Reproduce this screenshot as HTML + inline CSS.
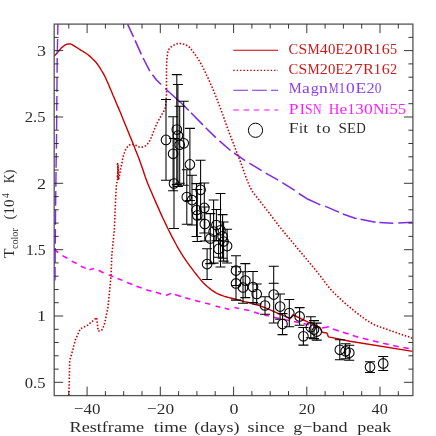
<!DOCTYPE html>
<html><head><meta charset="utf-8"><title>T_color</title>
<style>svg{will-change:transform}html,body{margin:0;padding:0;background:#fff}body{width:436px;height:436px;overflow:hidden;font-family:"Liberation Serif",serif}</style>
</head><body>
<svg width="436" height="436" viewBox="0 0 436 436" style="display:block">
<rect width="436" height="436" fill="#fff"/>
<defs><clipPath id="c"><rect x="54.2" y="24.1" width="358.7" height="371.5"/></clipPath></defs>
<g clip-path="url(#c)" fill="none" stroke-linecap="butt" stroke-linejoin="round">
<path d="M54.0,249.5 L58.3,252.5" stroke="#ff00ff" stroke-width="1.55"/>
<path d="M62.5,255.6 L67.4,258.3" stroke="#ff00ff" stroke-width="1.55"/>
<path d="M71.7,261.1 L76.6,263.5" stroke="#ff00ff" stroke-width="1.55"/>
<path d="M80.8,266.2 L85.8,268.4" stroke="#ff00ff" stroke-width="1.55"/>
<path d="M89.4,269.7 L94.0,268.4" stroke="#ff00ff" stroke-width="1.55"/>
<path d="M98.6,270.3 L103.6,273.0" stroke="#ff00ff" stroke-width="1.55"/>
<path d="M108.7,274.9 L113.3,276.7" stroke="#ff00ff" stroke-width="1.55"/>
<path d="M117.5,278.5 L122.5,280.4" stroke="#ff00ff" stroke-width="1.55"/>
<path d="M127.1,282.6 L132.3,284.5" stroke="#ff00ff" stroke-width="1.55"/>
<path d="M136.4,286.2 L141.6,287.9" stroke="#ff00ff" stroke-width="1.55"/>
<path d="M146.3,289.7 L151.5,291.3" stroke="#ff00ff" stroke-width="1.55"/>
<path d="M155.9,292.3 L161.1,294.1" stroke="#ff00ff" stroke-width="1.55"/>
<path d="M166.0,295.5 L171.1,293.4" stroke="#ff00ff" stroke-width="1.55"/>
<path d="M174.9,294.5 L181.1,296.4" stroke="#ff00ff" stroke-width="1.55"/>
<path d="M185.2,297.8 L190.3,299.3" stroke="#ff00ff" stroke-width="1.55"/>
<path d="M195.0,300.5 L200.2,301.8" stroke="#ff00ff" stroke-width="1.55"/>
<path d="M205.1,302.9 L210.1,304.3" stroke="#ff00ff" stroke-width="1.55"/>
<path d="M215.6,305.9 L220.2,307.2" stroke="#ff00ff" stroke-width="1.55"/>
<path d="M224.8,308.3 L229.4,309.4" stroke="#ff00ff" stroke-width="1.55"/>
<path d="M234.5,307.5 L238.9,308.4" stroke="#ff00ff" stroke-width="1.55"/>
<path d="M244.0,309.4 L249.2,310.5" stroke="#ff00ff" stroke-width="1.55"/>
<path d="M254.1,312.1 L259.1,313.8" stroke="#ff00ff" stroke-width="1.55"/>
<path d="M264.2,315.0 L268.8,316.1" stroke="#ff00ff" stroke-width="1.55"/>
<path d="M274.0,317.4 L274.6,317.5 L279.5,318.5" stroke="#ff00ff" stroke-width="1.55"/>
<path d="M284.3,319.5 L289.3,320.6" stroke="#ff00ff" stroke-width="1.55"/>
<path d="M294.0,321.6 L299.4,322.7" stroke="#ff00ff" stroke-width="1.55"/>
<path d="M303.6,323.6 L308.8,324.8" stroke="#ff00ff" stroke-width="1.55"/>
<path d="M313.5,326.0 L318.8,327.4" stroke="#ff00ff" stroke-width="1.55"/>
<path d="M322.0,327.9 L328.9,326.7" stroke="#ff00ff" stroke-width="1.55"/>
<path d="M333.0,329.1 L338.8,331.1" stroke="#ff00ff" stroke-width="1.55"/>
<path d="M342.9,332.2 L348.5,334.1" stroke="#ff00ff" stroke-width="1.55"/>
<path d="M352.8,335.5 L358.3,337.2" stroke="#ff00ff" stroke-width="1.55"/>
<path d="M362.9,338.3 L368.4,339.7" stroke="#ff00ff" stroke-width="1.55"/>
<path d="M373.0,340.8 L378.5,342.2" stroke="#ff00ff" stroke-width="1.55"/>
<path d="M383.1,343.2 L388.6,344.5" stroke="#ff00ff" stroke-width="1.55"/>
<path d="M393.2,345.5 L398.7,346.8" stroke="#ff00ff" stroke-width="1.55"/>
<path d="M403.3,347.6 L408.8,348.6" stroke="#ff00ff" stroke-width="1.55"/>
<path d="M412.3,349.2 L413.0,349.3" stroke="#ff00ff" stroke-width="1.55"/>
<path d="M127.6,24.1 L133.5,36.8" stroke="#7f2ae6" stroke-width="1.55"/>
<path d="M135.1,40.4 L141.3,54.4" stroke="#7f2ae6" stroke-width="1.55"/>
<path d="M143.1,58.0 L149.8,71.2" stroke="#7f2ae6" stroke-width="1.55"/>
<path d="M152.5,74.8 L156.5,80.0 L161.1,84.5" stroke="#7f2ae6" stroke-width="1.55"/>
<path d="M165.2,88.5 L182.8,104.5 L188.7,110.5" stroke="#7f2ae6" stroke-width="1.55"/>
<path d="M191.0,112.8 L202.9,124.9" stroke="#7f2ae6" stroke-width="1.55"/>
<path d="M205.7,127.7 L215.8,137.6" stroke="#7f2ae6" stroke-width="1.55"/>
<path d="M219.4,140.8 L230.5,150.5" stroke="#7f2ae6" stroke-width="1.55"/>
<path d="M234.1,153.0 L245.1,160.6" stroke="#7f2ae6" stroke-width="1.55"/>
<path d="M249.3,163.2 L261.7,170.7" stroke="#7f2ae6" stroke-width="1.55"/>
<path d="M265.8,173.1 L278.2,180.1" stroke="#7f2ae6" stroke-width="1.55"/>
<path d="M282.3,182.6 L294.7,190.4" stroke="#7f2ae6" stroke-width="1.55"/>
<path d="M298.8,193.5 L308.1,199.3 L320.3,204.9" stroke="#7f2ae6" stroke-width="1.55"/>
<path d="M325.1,206.3 L325.5,206.4 L338.8,212.1 L339.0,212.2" stroke="#7f2ae6" stroke-width="1.55"/>
<path d="M342.8,214.0 L342.9,214.0 L355.0,218.3 L356.7,218.6" stroke="#7f2ae6" stroke-width="1.55"/>
<path d="M360.5,219.3 L375.6,222.2" stroke="#7f2ae6" stroke-width="1.55"/>
<path d="M379.4,222.4 L393.0,223.2 L393.3,223.2" stroke="#7f2ae6" stroke-width="1.55"/>
<path d="M398.3,222.9 L412.5,222.2" stroke="#7f2ae6" stroke-width="1.55"/>
<path d="M68.9,395.6 L69.7,360.5 L72.7,350.4 L75.2,340.3 L80.3,328.9 L87.8,325.1 L96.7,317.6 L98.2,331.2 L101.7,330.2 L104.2,325.1 L108.0,307.0 L111.0,276.7 L111.8,255.2 L114.3,230.0 L115.6,199.4 L116.5,183.9 L117.6,180.6 L117.3,175.0 L118.3,170.0 L117.5,163.7 L118.4,172.0 L118.6,179.7 L120.6,169.2 L122.0,162.8 L122.1,162.1 L122.2,161.2 L122.4,160.1 L122.6,159.0 L122.8,157.8 L123.1,156.7 L123.4,155.6 L123.7,154.6 L124.1,153.5 L124.5,152.4 L124.8,151.4 L125.2,150.6 L125.5,149.9 L125.8,149.3 L126.1,148.8 L126.4,148.4 L126.8,147.9 L127.1,147.5 L127.4,147.0 L127.8,146.5 L128.1,146.1 L128.5,145.7 L128.9,145.3 L129.4,145.0 L130.0,144.8 L130.7,144.6 L131.4,144.5 L132.2,144.4 L133.1,144.5 L133.9,144.6 L134.8,144.9 L135.7,145.3 L136.7,145.8 L137.7,146.3 L138.6,146.7 L139.5,147.0 L140.4,147.1 L141.2,147.2 L142.0,147.1 L142.8,147.0 L143.6,146.8 L144.3,146.5 L145.0,146.1 L145.7,145.7 L146.4,145.1 L147.0,144.5 L147.7,143.8 L148.3,143.0 L148.9,142.2 L149.4,141.3 L149.9,140.3 L150.4,139.3 L151.0,138.0 L151.6,136.6 L152.3,134.9 L153.1,132.9 L153.9,130.7 L154.7,128.5 L155.6,126.4 L156.4,124.5 L157.2,122.8 L158.0,121.3 L158.9,119.8 L159.7,118.5 L160.4,117.1 L161.2,115.7 L161.9,114.4 L162.7,113.1 L163.4,111.9 L164.1,110.6 L164.7,109.2 L165.2,107.7 L165.6,106.0 L165.8,104.2 L166.0,102.2 L166.1,100.3 L166.2,98.3 L166.3,96.4 L166.4,94.7 L166.4,93.1 L166.5,91.6 L166.5,89.9 L166.5,87.9 L166.5,85.6 L166.5,82.7 L166.5,79.3 L166.5,75.6 L166.5,71.9 L166.5,68.4 L166.6,65.4 L166.7,62.8 L166.8,60.4 L167.0,58.1 L167.2,56.2 L167.4,54.4 L167.7,52.8 L168.0,51.5 L168.3,50.5 L168.7,49.7 L169.1,49.1 L169.6,48.4 L170.2,47.8 L170.9,47.1 L171.7,46.5 L172.5,45.9 L173.4,45.4 L174.3,44.9 L175.2,44.5 L176.0,44.2 L176.8,43.9 L177.6,43.6 L178.4,43.5 L179.3,43.4 L180.3,43.5 L181.4,43.7 L182.7,44.0 L184.1,44.3 L185.4,44.8 L186.7,45.4 L187.8,46.0 L188.8,46.7 L189.6,47.4 L190.3,48.2 L191.1,49.1 L191.9,50.2 L192.9,51.5 L194.0,53.0 L195.3,54.7 L196.5,56.6 L197.9,58.6 L199.2,60.7 L200.5,62.9 L201.8,65.2 L203.0,67.6 L204.2,70.1 L205.5,72.6 L206.7,75.3 L208.0,78.0 L209.3,80.8 L210.5,83.6 L211.8,86.5 L213.1,89.5 L214.3,92.6 L215.6,95.7 L216.9,99.0 L218.2,102.5 L219.6,106.0 L220.9,109.5 L222.1,112.9 L223.2,115.9 L224.1,118.4 L224.8,120.4 L225.4,122.3 L226.1,124.3 L227.0,126.8 L228.2,130.0 L229.8,134.2 L231.7,139.1 L233.8,144.5 L235.9,150.1 L238.0,155.5 L240.0,160.6 L241.8,165.4 L243.5,170.3 L245.2,175.1 L246.9,179.6 L248.6,183.8 L250.3,187.5 L252.0,190.6 L253.7,193.3 L255.4,195.5 L257.2,197.6 L258.9,199.7 L260.6,201.9 L262.3,204.2 L264.0,206.4 L265.7,208.6 L267.5,210.9 L269.2,213.1 L271.0,215.4 L272.6,217.5 L273.9,219.2 L275.2,221.0 L276.9,223.2 L279.1,226.1 L282.3,230.0 L286.7,235.4 L292.3,242.0 L298.4,249.4 L304.7,256.9 L310.6,264.0 L315.6,270.0 L319.5,274.9 L322.7,279.1 L325.4,282.8 L328.2,286.4 L331.2,290.0 L335.0,293.9 L339.7,298.3 L344.9,303.1 L350.6,307.9 L356.2,312.5 L361.6,316.6 L366.3,320.0 L370.3,322.5 L373.8,324.4 L376.9,325.7 L380.0,326.9 L383.3,328.0 L386.9,329.3 L391.2,330.9 L396.1,332.6 L401.1,334.3 L405.8,335.9 L409.8,337.2 L412.7,338.2" stroke="#c80000" stroke-width="1.6" stroke-dasharray="1.5 1.8"/>
<path d="M117.9,163.5 l-0.9,1.2 l1.8,1 l-1.8,1.2 l1.8,1 l-1.8,1.2 l1.8,1 l-1.8,1.2 l1.8,1 l-1.8,1.2 l1.8,1 l-1.8,1.2 l1.8,1 l-1.8,1.2 l1.8,1 l-0.9,1" stroke="#c80000" stroke-width="0.8"/>
<path d="M54.1,56.2 L54.5,55.8 L55.0,55.2 L55.7,54.5 L56.4,53.7 L57.1,52.9 L57.8,52.1 L58.5,51.3 L59.3,50.4 L60.0,49.5 L60.8,48.6 L61.6,47.8 L62.3,47.1 L63.0,46.5 L63.6,46.0 L64.3,45.6 L64.9,45.2 L65.4,44.9 L66.0,44.6 L66.5,44.4 L67.0,44.2 L67.5,44.1 L67.9,44.1 L68.3,44.0 L68.8,44.0 L69.2,44.0 L69.6,43.9 L70.0,43.9 L70.5,44.0 L70.9,44.1 L71.5,44.3 L72.2,44.6 L72.9,45.1 L73.7,45.6 L74.5,46.1 L75.4,46.6 L76.1,47.1 L76.7,47.5 L77.3,47.9 L77.8,48.2 L78.4,48.6 L79.1,49.0 L80.0,49.6 L81.1,50.3 L82.4,51.0 L83.7,51.9 L85.2,52.8 L86.6,53.8 L88.0,54.8 L89.4,55.9 L90.8,57.1 L92.2,58.4 L93.5,59.7 L94.8,61.1 L96.1,62.5 L97.3,64.0 L98.4,65.6 L99.5,67.2 L100.5,68.8 L101.5,70.5 L102.5,72.1 L103.4,73.7 L104.2,75.2 L105.0,76.8 L105.8,78.4 L106.5,80.0 L107.3,81.7 L108.1,83.4 L108.8,85.1 L109.5,86.9 L110.3,88.7 L111.2,90.8 L112.1,93.0 L113.1,95.5 L114.3,98.1 L115.5,101.0 L116.7,103.9 L118.0,106.9 L119.3,110.0 L120.6,113.0 L121.8,116.1 L123.1,119.2 L124.4,122.5 L125.9,126.1 L127.5,130.0 L129.3,134.5 L131.4,139.6 L133.6,145.0 L135.7,150.4 L137.8,155.5 L139.5,160.0 L140.9,163.9 L142.1,167.4 L143.2,170.6 L144.2,173.7 L145.2,176.7 L146.4,180.0 L147.7,183.4 L149.1,186.8 L150.6,190.3 L152.1,193.7 L153.6,197.2 L155.1,200.6 L156.6,204.1 L158.2,207.6 L159.7,211.1 L161.3,214.6 L162.8,218.0 L164.4,221.3 L166.0,224.6 L167.5,227.8 L169.1,231.0 L170.7,234.1 L172.2,237.1 L173.7,239.9 L175.1,242.5 L176.4,245.0 L177.7,247.3 L179.0,249.6 L180.4,251.9 L181.9,254.3 L183.5,256.8 L185.2,259.3 L186.9,261.8 L188.7,264.3 L190.5,266.8 L192.3,269.2 L194.1,271.6 L196.0,274.0 L197.8,276.4 L199.7,278.6 L201.5,280.8 L203.3,282.7 L205.0,284.4 L206.6,286.0 L208.2,287.3 L209.8,288.6 L211.3,289.8 L212.9,290.9 L214.5,291.9 L215.9,292.8 L217.4,293.6 L219.0,294.3 L220.7,295.0 L222.5,295.7 L224.5,296.4 L226.7,297.0 L229.0,297.6 L231.4,298.2 L233.8,298.8 L236.3,299.4 L238.9,300.1 L241.7,300.8 L244.6,301.6 L247.4,302.3 L250.1,303.0 L252.5,303.7 L254.6,304.3 L256.6,304.9 L258.4,305.4 L260.1,305.9 L261.8,306.5 L263.5,307.1 L265.1,307.7 L266.6,308.3 L268.0,309.0 L269.5,309.6 L271.3,310.4 L273.3,311.3 L275.9,312.4 L279.1,313.8 L282.5,315.2 L285.7,316.6 L288.5,317.8 L290.4,318.6 L292.6,315.0 L294.4,315.5 L310.0,323.2 L318.9,326.8 L320.1,327.8 L322.3,332.3 L326.9,333.0 L328.5,336.9 L350.0,341.3 L412.7,351.4" stroke="#c80000" stroke-width="1.4"/>
</g>
<g fill="none" stroke="#000" stroke-width="1.05">
<path d="M166.0,99.5V180.3M161.0,99.5H171.0M161.0,180.3H171.0"/>
<circle cx="166.0" cy="139.9" r="4.8"/>
<path d="M173.1,116.8V190.8M168.1,116.8H178.1M168.1,190.8H178.1"/>
<circle cx="173.1" cy="153.8" r="4.8"/>
<path d="M176.8,74.6V184.6M171.8,74.6H181.8M171.8,184.6H181.8"/>
<circle cx="176.8" cy="129.6" r="4.8"/>
<path d="M177.9,84.5V186.5M172.9,84.5H182.9M172.9,186.5H182.9"/>
<circle cx="177.9" cy="135.5" r="4.8"/>
<path d="M179.7,106.2V183.2M174.7,106.2H184.7M174.7,183.2H184.7"/>
<circle cx="179.7" cy="144.7" r="4.8"/>
<path d="M183.7,101.3V185.3M178.7,101.3H188.7M178.7,185.3H188.7"/>
<circle cx="183.7" cy="143.3" r="4.8"/>
<path d="M189.9,128.4V200.4M184.9,128.4H194.9M184.9,200.4H194.9"/>
<circle cx="189.9" cy="164.4" r="4.8"/>
<path d="M174.0,138.5V228.5M169.0,138.5H179.0M169.0,228.5H179.0"/>
<circle cx="174.0" cy="183.5" r="4.8"/>
<path d="M200.6,160.3V219.3M195.6,160.3H205.6M195.6,219.3H205.6"/>
<circle cx="200.6" cy="189.8" r="4.8"/>
<path d="M186.8,169.7V224.3M181.8,169.7H191.8M181.8,224.3H191.8"/>
<circle cx="186.8" cy="197.0" r="4.8"/>
<path d="M192.0,175.3V224.9M187.0,175.3H197.0M187.0,224.9H197.0"/>
<circle cx="192.0" cy="200.1" r="4.8"/>
<path d="M204.3,182.9V232.9M199.3,182.9H209.3M199.3,232.9H209.3"/>
<circle cx="204.3" cy="207.9" r="4.8"/>
<path d="M196.5,183.6V236.4M191.5,183.6H201.5M191.5,236.4H201.5"/>
<circle cx="196.5" cy="210.0" r="4.8"/>
<path d="M197.3,189.4V241.4M192.3,189.4H202.3M192.3,241.4H202.3"/>
<circle cx="197.3" cy="215.4" r="4.8"/>
<path d="M204.8,207.0V241.0M199.8,207.0H209.8M199.8,241.0H209.8"/>
<circle cx="204.8" cy="224.0" r="4.8"/>
<path d="M213.6,199.9V263.1M208.6,199.9H218.6M208.6,263.1H218.6"/>
<circle cx="213.6" cy="231.5" r="4.8"/>
<path d="M220.5,193.5V266.9M215.5,193.5H225.5M215.5,266.9H225.5"/>
<circle cx="220.5" cy="230.2" r="4.8"/>
<path d="M218.6,240.6V257.2M213.6,240.6H223.6M213.6,257.2H223.6"/>
<circle cx="218.6" cy="248.9" r="4.8"/>
<path d="M216.4,209.5V240.7M211.4,209.5H221.4M211.4,240.7H221.4"/>
<circle cx="216.4" cy="225.1" r="4.8"/>
<path d="M222.6,214.6V258.2M217.6,214.6H227.6M217.6,258.2H227.6"/>
<circle cx="222.6" cy="236.4" r="4.8"/>
<path d="M223.6,221.9V261.1M218.6,221.9H228.6M218.6,261.1H228.6"/>
<circle cx="223.6" cy="241.5" r="4.8"/>
<path d="M227.1,229.2V263.0M222.1,229.2H232.1M222.1,263.0H232.1"/>
<circle cx="227.1" cy="246.1" r="4.8"/>
<path d="M210.3,213.6V263.6M205.3,213.6H215.3M205.3,263.6H215.3"/>
<circle cx="210.3" cy="238.6" r="4.8"/>
<path d="M207.1,248.7V279.5M202.1,248.7H212.1M202.1,279.5H212.1"/>
<circle cx="207.1" cy="264.1" r="4.8"/>
<path d="M236.0,255.8V285.4M231.0,255.8H241.0M231.0,285.4H241.0"/>
<circle cx="236.0" cy="270.6" r="4.8"/>
<path d="M236.0,266.7V300.1M231.0,266.7H241.0M231.0,300.1H241.0"/>
<circle cx="236.0" cy="283.4" r="4.8"/>
<path d="M245.3,263.6V297.6M240.3,263.6H250.3M240.3,297.6H250.3"/>
<circle cx="245.3" cy="280.6" r="4.8"/>
<path d="M243.0,271.7V303.3M238.0,271.7H248.0M238.0,303.3H248.0"/>
<circle cx="243.0" cy="287.5" r="4.8"/>
<path d="M253.0,271.5V302.5M248.0,271.5H258.0M248.0,302.5H258.0"/>
<circle cx="253.0" cy="287.0" r="4.8"/>
<path d="M256.7,284.0V304.0M251.7,284.0H261.7M251.7,304.0H261.7"/>
<circle cx="256.7" cy="294.0" r="4.8"/>
<path d="M273.7,266.2V323.0M268.7,266.2H278.7M268.7,323.0H278.7"/>
<circle cx="273.7" cy="294.6" r="4.8"/>
<path d="M265.0,296.7V314.3M260.0,296.7H270.0M260.0,314.3H270.0"/>
<circle cx="265.0" cy="305.5" r="4.8"/>
<path d="M280.1,293.9V319.3M275.1,293.9H285.1M275.1,319.3H285.1"/>
<circle cx="280.1" cy="306.6" r="4.8"/>
<path d="M282.5,313.6V334.6M277.5,313.6H287.5M277.5,334.6H287.5"/>
<circle cx="282.5" cy="324.1" r="4.8"/>
<path d="M289.3,299.4V326.8M284.3,299.4H294.3M284.3,326.8H294.3"/>
<circle cx="289.3" cy="313.1" r="4.8"/>
<path d="M299.6,307.6V325.2M294.6,307.6H304.6M294.6,325.2H304.6"/>
<circle cx="299.6" cy="316.4" r="4.8"/>
<path d="M303.4,327.5V345.1M298.4,327.5H308.4M298.4,345.1H308.4"/>
<circle cx="303.4" cy="336.3" r="4.8"/>
<path d="M310.8,316.7V337.7M305.8,316.7H315.8M305.8,337.7H315.8"/>
<circle cx="310.8" cy="327.2" r="4.8"/>
<path d="M314.0,320.6V338.6M309.0,320.6H319.0M309.0,338.6H319.0"/>
<circle cx="314.0" cy="329.6" r="4.8"/>
<path d="M316.7,323.1V340.1M311.7,323.1H321.7M311.7,340.1H321.7"/>
<circle cx="316.7" cy="331.6" r="4.8"/>
<path d="M339.8,339.8V359.8M334.8,339.8H344.8M334.8,359.8H344.8"/>
<circle cx="339.8" cy="349.8" r="4.8"/>
<path d="M345.6,343.8V358.8M340.6,343.8H350.6M340.6,358.8H350.6"/>
<circle cx="345.6" cy="351.3" r="4.8"/>
<path d="M349.3,345.2V360.2M344.3,345.2H354.3M344.3,360.2H354.3"/>
<circle cx="349.3" cy="352.7" r="4.8"/>
<path d="M370.0,361.8V372.4M365.0,361.8H375.0M365.0,372.4H375.0"/>
<circle cx="370.0" cy="367.1" r="4.8"/>
<path d="M383.2,356.4V370.4M378.2,356.4H388.2M378.2,370.4H388.2"/>
<circle cx="383.2" cy="363.4" r="4.8"/>
<path d="M268.7,283.3H278.7"/>
</g>
<rect x="54.2" y="24.1" width="358.7" height="371.5" fill="none" stroke="#555" stroke-width="1.3"/>
<path d="M57.9,24.1 L57.5,45 L57.2,57 L56.5,140 L56.1,165 L55.5,215 L55.0,280.5" stroke="#7f2ae6" stroke-width="1.4" fill="none" stroke-dasharray="14.8 4.2" stroke-dashoffset="4.2"/>
<path d="M68.8,395.6v-4.5M68.8,24.1v4.5M87.1,395.6v-9M87.1,24.1v9M105.4,395.6v-4.5M105.4,24.1v4.5M123.7,395.6v-4.5M123.7,24.1v4.5M142.0,395.6v-4.5M142.0,24.1v4.5M160.3,395.6v-9M160.3,24.1v9M178.6,395.6v-4.5M178.6,24.1v4.5M196.9,395.6v-4.5M196.9,24.1v4.5M215.2,395.6v-4.5M215.2,24.1v4.5M233.6,395.6v-9M233.6,24.1v9M251.9,395.6v-4.5M251.9,24.1v4.5M270.2,395.6v-4.5M270.2,24.1v4.5M288.5,395.6v-4.5M288.5,24.1v4.5M306.8,395.6v-9M306.8,24.1v9M325.1,395.6v-4.5M325.1,24.1v4.5M343.4,395.6v-4.5M343.4,24.1v4.5M361.7,395.6v-4.5M361.7,24.1v4.5M380.0,395.6v-9M380.0,24.1v9M398.3,395.6v-4.5M398.3,24.1v4.5M54.2,382.3h9M412.9,382.3h-9M54.2,369.1h4.5M412.9,369.1h-4.5M54.2,355.8h4.5M412.9,355.8h-4.5M54.2,342.5h4.5M412.9,342.5h-4.5M54.2,329.3h4.5M412.9,329.3h-4.5M54.2,316.0h9M412.9,316.0h-9M54.2,302.7h4.5M412.9,302.7h-4.5M54.2,289.5h4.5M412.9,289.5h-4.5M54.2,276.2h4.5M412.9,276.2h-4.5M54.2,262.9h4.5M412.9,262.9h-4.5M54.2,249.7h9M412.9,249.7h-9M54.2,236.4h4.5M412.9,236.4h-4.5M54.2,223.1h4.5M412.9,223.1h-4.5M54.2,209.8h4.5M412.9,209.8h-4.5M54.2,196.6h4.5M412.9,196.6h-4.5M54.2,183.3h9M412.9,183.3h-9M54.2,170.0h4.5M412.9,170.0h-4.5M54.2,156.8h4.5M412.9,156.8h-4.5M54.2,143.5h4.5M412.9,143.5h-4.5M54.2,130.2h4.5M412.9,130.2h-4.5M54.2,117.0h9M412.9,117.0h-9M54.2,103.7h4.5M412.9,103.7h-4.5M54.2,90.4h4.5M412.9,90.4h-4.5M54.2,77.2h4.5M412.9,77.2h-4.5M54.2,63.9h4.5M412.9,63.9h-4.5M54.2,50.6h9M412.9,50.6h-9M54.2,37.4h4.5M412.9,37.4h-4.5" stroke="#222" stroke-width="0.9" fill="none"/>
<g font-family="'Liberation Serif', serif" font-size="15.5px" fill="#111" fill-opacity="0.9">
<text x="73.9" y="413.9" textLength="26.5" lengthAdjust="spacingAndGlyphs">−40</text>
<text x="147.1" y="413.9" textLength="27.1" lengthAdjust="spacingAndGlyphs">−20</text>
<text x="229.6" y="413.9" textLength="9.0" lengthAdjust="spacingAndGlyphs">0</text>
<text x="298.8" y="413.9" textLength="16.2" lengthAdjust="spacingAndGlyphs">20</text>
<text x="371.6" y="413.9" textLength="16.2" lengthAdjust="spacingAndGlyphs">40</text>
<text x="37.0" y="55.8" textLength="9.0" lengthAdjust="spacingAndGlyphs">3</text>
<text x="24.8" y="122.2" textLength="20.8" lengthAdjust="spacingAndGlyphs">2.5</text>
<text x="37.0" y="188.5" textLength="9.0" lengthAdjust="spacingAndGlyphs">2</text>
<text x="25.9" y="254.9" textLength="19.7" lengthAdjust="spacingAndGlyphs">1.5</text>
<text x="37.0" y="321.2" textLength="9.0" lengthAdjust="spacingAndGlyphs">1</text>
<text x="24.8" y="387.5" textLength="20.8" lengthAdjust="spacingAndGlyphs">0.5</text>
<text x="69.6" y="431.5" textLength="74.5" lengthAdjust="spacingAndGlyphs">Restframe</text>
<text x="153.7" y="431.5" textLength="33.5" lengthAdjust="spacingAndGlyphs">time</text>
<text x="194.2" y="431.5" textLength="45.3" lengthAdjust="spacingAndGlyphs">(days)</text>
<text x="247.4" y="431.5" textLength="37.1" lengthAdjust="spacingAndGlyphs">since</text>
<text x="293.2" y="431.5" textLength="54.4" lengthAdjust="spacingAndGlyphs">g−band</text>
<text x="357.2" y="431.5" textLength="34.0" lengthAdjust="spacingAndGlyphs">peak</text>
<text x="288.6" y="53.5" fill="#c80000" textLength="9.70" lengthAdjust="spacingAndGlyphs">C</text>
<text x="298.5" y="53.5" fill="#c80000" textLength="8.70" lengthAdjust="spacingAndGlyphs">S</text>
<text x="307.4" y="53.5" fill="#c80000" textLength="12.20" lengthAdjust="spacingAndGlyphs">M</text>
<text x="319.8" y="53.5" fill="#c80000" textLength="8.00" lengthAdjust="spacingAndGlyphs">4</text>
<text x="328.0" y="53.5" fill="#c80000" textLength="7.40" lengthAdjust="spacingAndGlyphs">0</text>
<text x="335.6" y="53.5" fill="#c80000" textLength="8.70" lengthAdjust="spacingAndGlyphs">E</text>
<text x="344.5" y="53.5" fill="#c80000" textLength="8.76" lengthAdjust="spacingAndGlyphs">2</text>
<text x="354.1" y="53.5" fill="#c80000" textLength="8.76" lengthAdjust="spacingAndGlyphs">0</text>
<text x="363.1" y="53.5" fill="#c80000" textLength="10.80" lengthAdjust="spacingAndGlyphs">R</text>
<text x="373.8" y="53.5" fill="#c80000" textLength="7.40" lengthAdjust="spacingAndGlyphs">1</text>
<text x="381.7" y="53.5" fill="#c80000" textLength="8.00" lengthAdjust="spacingAndGlyphs">6</text>
<text x="389.9" y="53.5" fill="#c80000" textLength="7.10" lengthAdjust="spacingAndGlyphs">5</text>
<text x="288.6" y="73.5" fill="#c80000" textLength="9.70" lengthAdjust="spacingAndGlyphs">C</text>
<text x="298.5" y="73.5" fill="#c80000" textLength="8.70" lengthAdjust="spacingAndGlyphs">S</text>
<text x="307.4" y="73.5" fill="#c80000" textLength="12.20" lengthAdjust="spacingAndGlyphs">M</text>
<text x="319.8" y="73.5" fill="#c80000" textLength="8.00" lengthAdjust="spacingAndGlyphs">2</text>
<text x="328.0" y="73.5" fill="#c80000" textLength="7.40" lengthAdjust="spacingAndGlyphs">0</text>
<text x="335.6" y="73.5" fill="#c80000" textLength="8.70" lengthAdjust="spacingAndGlyphs">E</text>
<text x="344.5" y="73.5" fill="#c80000" textLength="8.76" lengthAdjust="spacingAndGlyphs">2</text>
<text x="354.1" y="73.5" fill="#c80000" textLength="8.76" lengthAdjust="spacingAndGlyphs">7</text>
<text x="363.1" y="73.5" fill="#c80000" textLength="10.80" lengthAdjust="spacingAndGlyphs">R</text>
<text x="373.8" y="73.5" fill="#c80000" textLength="7.40" lengthAdjust="spacingAndGlyphs">1</text>
<text x="381.7" y="73.5" fill="#c80000" textLength="8.00" lengthAdjust="spacingAndGlyphs">6</text>
<text x="389.9" y="73.5" fill="#c80000" textLength="7.10" lengthAdjust="spacingAndGlyphs">2</text>
<text x="288.8" y="93.2" fill="#7f2ae6" textLength="12.90" lengthAdjust="spacingAndGlyphs">M</text>
<text x="301.9" y="93.2" fill="#7f2ae6" textLength="7.77" lengthAdjust="spacingAndGlyphs">a</text>
<text x="310.8" y="93.2" fill="#7f2ae6" textLength="8.10" lengthAdjust="spacingAndGlyphs">g</text>
<text x="319.1" y="93.2" fill="#7f2ae6" textLength="8.76" lengthAdjust="spacingAndGlyphs">n</text>
<text x="328.7" y="93.2" fill="#7f2ae6" textLength="9.90" lengthAdjust="spacingAndGlyphs">M</text>
<text x="338.5" y="93.2" fill="#7f2ae6" textLength="6.90" lengthAdjust="spacingAndGlyphs">1</text>
<text x="345.9" y="93.2" fill="#7f2ae6" textLength="8.76" lengthAdjust="spacingAndGlyphs">0</text>
<text x="355.5" y="93.2" fill="#7f2ae6" textLength="10.70" lengthAdjust="spacingAndGlyphs">E</text>
<text x="366.5" y="93.2" fill="#7f2ae6" textLength="8.10" lengthAdjust="spacingAndGlyphs">2</text>
<text x="374.8" y="93.2" fill="#7f2ae6" textLength="6.70" lengthAdjust="spacingAndGlyphs">0</text>
<text x="288.8" y="113.7" fill="#ff00ff" textLength="9.74" lengthAdjust="spacingAndGlyphs">P</text>
<text x="299.8" y="113.7" fill="#ff00ff" textLength="5.10" lengthAdjust="spacingAndGlyphs">I</text>
<text x="305.1" y="113.7" fill="#ff00ff" textLength="7.60" lengthAdjust="spacingAndGlyphs">S</text>
<text x="312.9" y="113.7" fill="#ff00ff" textLength="8.60" lengthAdjust="spacingAndGlyphs">N</text>
<text x="328.7" y="113.7" fill="#ff00ff" textLength="10.60" lengthAdjust="spacingAndGlyphs">H</text>
<text x="339.5" y="113.7" fill="#ff00ff" textLength="7.77" lengthAdjust="spacingAndGlyphs">e</text>
<text x="347.5" y="113.7" fill="#ff00ff" textLength="7.30" lengthAdjust="spacingAndGlyphs">1</text>
<text x="355.3" y="113.7" fill="#ff00ff" textLength="8.40" lengthAdjust="spacingAndGlyphs">3</text>
<text x="363.9" y="113.7" fill="#ff00ff" textLength="8.76" lengthAdjust="spacingAndGlyphs">0</text>
<text x="372.9" y="113.7" fill="#ff00ff" textLength="11.50" lengthAdjust="spacingAndGlyphs">N</text>
<text x="384.6" y="113.7" fill="#ff00ff" textLength="4.60" lengthAdjust="spacingAndGlyphs">i</text>
<text x="389.4" y="113.7" fill="#ff00ff" textLength="8.40" lengthAdjust="spacingAndGlyphs">5</text>
<text x="398.0" y="113.7" fill="#ff00ff" textLength="8.00" lengthAdjust="spacingAndGlyphs">5</text>
<text x="288.8" y="133.4" fill="#111" textLength="9.74" lengthAdjust="spacingAndGlyphs">F</text>
<text x="299.1" y="133.4" fill="#111" textLength="4.00" lengthAdjust="spacingAndGlyphs">i</text>
<text x="303.3" y="133.4" fill="#111" textLength="4.87" lengthAdjust="spacingAndGlyphs">t</text>
<text x="316.3" y="133.4" fill="#111" textLength="4.87" lengthAdjust="spacingAndGlyphs">t</text>
<text x="321.9" y="133.4" fill="#111" textLength="8.60" lengthAdjust="spacingAndGlyphs">o</text>
<text x="338.5" y="133.4" fill="#111" textLength="8.40" lengthAdjust="spacingAndGlyphs">S</text>
<text x="347.1" y="133.4" fill="#111" textLength="8.90" lengthAdjust="spacingAndGlyphs">E</text>
<text x="356.2" y="133.4" fill="#111" textLength="9.50" lengthAdjust="spacingAndGlyphs">D</text>
<g transform="translate(13.6,258) rotate(-90)">
<text x="0" y="0">T</text><text x="9" y="4.8" font-size="10.5px" textLength="20.8" lengthAdjust="spacingAndGlyphs">color</text><text x="38.5" y="0" textLength="20" lengthAdjust="spacingAndGlyphs">(10</text><text x="60" y="-5" font-size="9.5px">4</text><text x="74.8" y="0" textLength="13.6" lengthAdjust="spacingAndGlyphs">K)</text>
</g>
</g>
<g fill="none" stroke-width="1.1">
<path d="M233.3,50.3H278" stroke="#c80000"/>
<path d="M233.3,70.4H278" stroke="#c80000" stroke-dasharray="1.4 2.0" stroke-width="1.3"/>
<path d="M233.3,90.3H278" stroke="#7f2ae6" stroke-dasharray="14.7 4.1"/>
<path d="M233.3,110H278" stroke="#ff00ff" stroke-dasharray="5.4 4.9"/>
<circle cx="255.5" cy="130.3" r="7.1" stroke="#000" stroke-width="1"/>
</g>
</svg>
</body></html>
